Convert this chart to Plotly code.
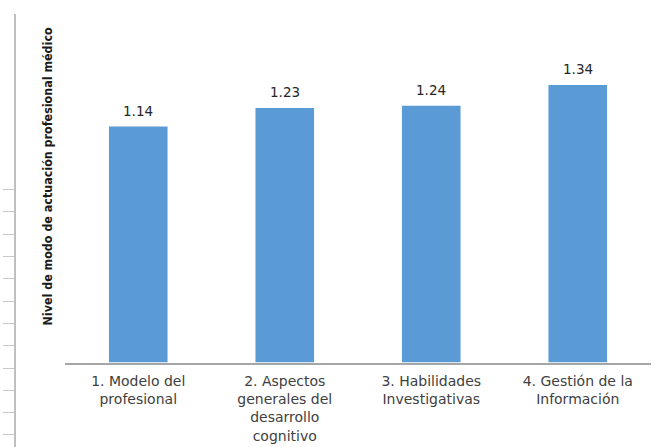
import plotly.graph_objects as go

categories = ["1. Modelo del<br>profesional",
              "2. Aspectos<br>generales del<br>desarrollo<br>cognitivo",
              "3. Habilidades<br>Investigativas",
              "4. Gestión de la<br>Información"]
values = [1.14, 1.23, 1.24, 1.34]
value_labels = ["1.14", "1.23", "1.24", "1.34"]
y_title = "Nivel de modo de actuación profesional médico"

W, H = 655, 447
ML, MR, MT, MB = 16, 4, 14, 0
pw = W - ML - MR
ph = H - MT - MB

fig = go.Figure()
# decorative left axis (invisible helper trace)
fig.add_trace(go.Scatter(x=[0], y=[0], xaxis="x2", yaxis="y2",
                         mode="markers", marker_opacity=0,
                         showlegend=False, hoverinfo="skip"))
fig.add_trace(go.Bar(x=categories, y=values, marker_color="#5B9BD5",
                     marker_line_width=0, xaxis="x", yaxis="y",
                     hoverinfo="skip"))

for c, v, t in zip(categories, values, value_labels):
    fig.add_annotation(x=c, y=v, text=t, xref="x", yref="y",
                       showarrow=False, yanchor="bottom", yshift=6,
                       font=dict(family="DejaVu Sans", size=13.5, color="#262626"))

fig.add_annotation(x=(37 - ML) / pw, y=(H - 176) / ph, xref="paper", yref="paper",
                   text="<b>" + y_title + "</b>", textangle=-90, showarrow=False,
                   font=dict(family="DejaVu Sans Condensed", size=12.4, color="#1a1a1a"))

base_y = 362.5
fig.update_layout(
    width=W, height=H,
    margin=dict(l=ML, r=MR, t=MT, b=MB),
    paper_bgcolor="white", plot_bgcolor="rgba(0,0,0,0)",
    showlegend=False, bargap=0.6,
    xaxis=dict(domain=[(65 - ML) / pw, 1], anchor="y", showline=True,
               linecolor="#a6a6a6", linewidth=1.5, ticks="", showgrid=False,
               ticklabelstandoff=5,
               tickfont=dict(family="DejaVu Sans", size=14, color="#404040"),
               zeroline=False),
    yaxis=dict(domain=[(H - base_y) / ph, 1], range=[0, (base_y - MT) / 207.0],
               visible=False, showgrid=False, zeroline=False),
    xaxis2=dict(domain=[0, 0.01], anchor="y2", visible=False, range=[0, 1]),
    yaxis2=dict(domain=[0, 1], anchor="x2",
                range=[-0.54, 18.88], showline=True, linecolor="#bfbfbf",
                linewidth=1.5, ticks="outside", ticklen=11, tickcolor="#c8c8c8",
                tickwidth=1, tickvals=list(range(12)), showticklabels=False,
                showgrid=False, zeroline=False),
)

fig.write_html("out.html")
